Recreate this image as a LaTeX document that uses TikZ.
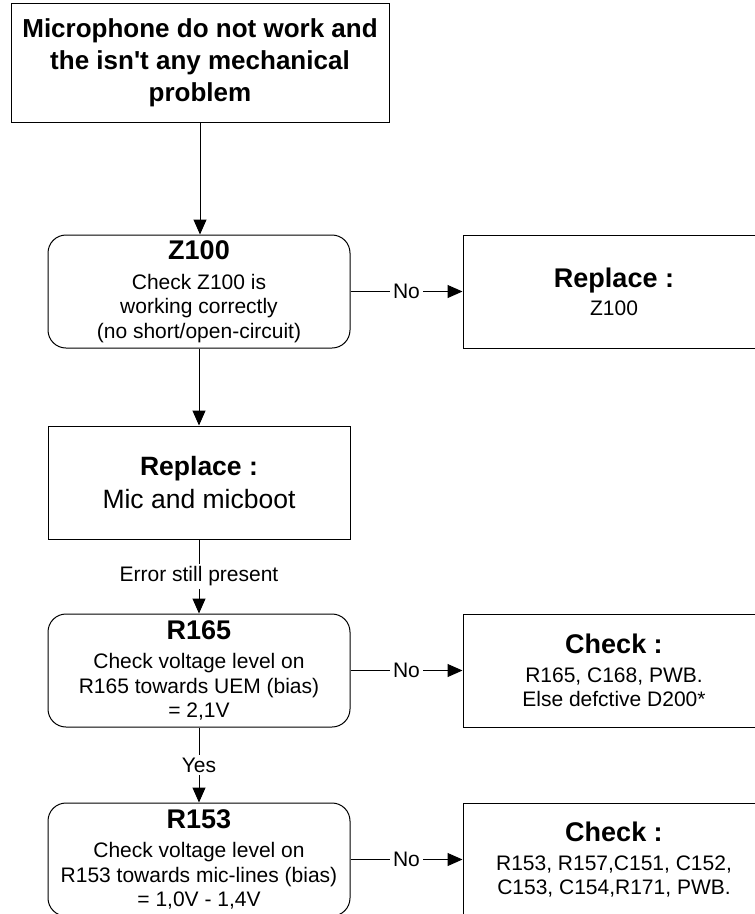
\documentclass[tikz,border=0pt]{standalone}
\usepackage{fontspec}
\setmainfont[Ligatures=TeXOff]{Liberation Sans}
\usetikzlibrary{arrows.meta}
\newcommand{\boxtitle}[1]{{\fontsize{27}{30}\selectfont\bfseries #1}}
\begin{document}
\begin{tikzpicture}[x=1pt,y=-1pt,
  box/.style={draw=black, line width=1pt, minimum width=302pt, minimum height=113pt,
              align=center, inner sep=0pt, font=\fontsize{21}{24.5}\selectfont},
  testbox/.style={box, rounded corners=18pt},
  conn/.style={line width=1pt, -{Triangle[length=15pt,width=13pt]}},
  lbl/.style={font=\fontsize{21}{24}\selectfont, fill=white, inner sep=3pt},
]
\useasboundingbox (0,0) rectangle (755,914);

% problem statement
\node[box, minimum width=378pt, minimum height=119pt,
      font=\fontsize{26}{32}\selectfont\bfseries] (start) at (200,62.5)
  {Microphone do not work and\\the isn't any mechanical\\problem};

% left column: checks and actions
\node[testbox] (z100) at (199,291.5)
  {\boxtitle{Z100}\\[5pt]Check Z100 is\\working correctly\\(no short/open-circuit)};
\node[box, font=\fontsize{26.5}{33}\selectfont] (mic) at (199,482.5)
  {\textbf{Replace :}\\Mic and micboot};
\node[testbox] (r165) at (199,670.5)
  {\boxtitle{R165}\\[5pt]Check voltage level on\\R165 towards UEM (bias)\\= 2,1V};
\node[testbox] (r153) at (199,859.5)
  {\boxtitle{R153}\\[5pt]Check voltage level on\\R153 towards mic-lines (bias)\\= 1,0V - 1,4V};

% right column: repairs
\node[box] (repz) at (614,291.5)
  {\boxtitle{Replace :}\\[3.5pt]Z100};
\node[box] (chk1) at (614,670.5)
  {\boxtitle{Check :}\\[4.5pt]R165, C168, PWB.\\Else defctive D200*};
\node[box] (chk2) at (614,859.5)
  {\boxtitle{Check :}\\[4.5pt]R153, R157,C151, C152,\\C153, C154,R171, PWB.};

% connectors
\draw[conn] (start.south) -- (start.south |- z100.north);
\draw[conn] (z100) -- (mic);
\draw[conn] (mic) -- node[lbl] {Error still present} (r165);
\draw[conn] (r165) -- node[lbl] {Yes} (r153);
\draw[conn] (z100) -- node[lbl] {No} (repz);
\draw[conn] (r165) -- node[lbl] {No} (chk1);
\draw[conn] (r153) -- node[lbl] {No} (chk2);
\end{tikzpicture}
\end{document}
